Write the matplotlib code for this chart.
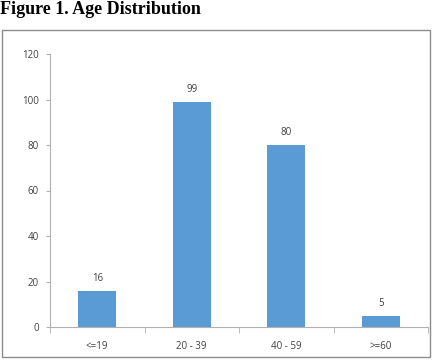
import matplotlib
matplotlib.use("Agg")
import matplotlib.pyplot as plt
from matplotlib.patches import Rectangle

categories = ["<=19", "20 - 39", "40 - 59", ">=60"]
values = [16, 99, 80, 5]
yticks = [0, 20, 40, 60, 80, 100, 120]

W, H = 434, 363
fig = plt.figure(figsize=(W/100, H/100), dpi=100)
fig.patch.set_facecolor("white")

fig.text(0/W, 1 - 1/H, "Figure 1. Age Distribution", ha="left", va="top",
         fontsize=13, fontweight="bold", family="Liberation Serif")

fig.patches.append(Rectangle((2/W, 1 - 357/H), 428/W, 327/H, transform=fig.transFigure,
                             fill=False, edgecolor="#8c8c8c", linewidth=1.0))

ax = fig.add_axes([50/W, 1 - 327/H, 378/W, 273/H])
x = list(range(len(categories)))
bars = ax.bar(x, values, width=0.4, color="#5b9bd5")
ax.set_xlim(-0.5, len(categories) - 0.5)
ax.set_ylim(0, 120)
ax.set_yticks(yticks)
ax.set_yticklabels([str(t) for t in yticks])
ax.set_xticks(x)
ax.set_xticklabels(categories)
ax.set_xticks([i + 0.5 for i in x[:-1]] + [-0.5, len(categories) - 0.5], minor=True)
ax.tick_params(axis="x", which="major", length=0, pad=10, labelsize=7, colors="#404040")
ax.tick_params(axis="x", which="minor", length=4, color="#b0b0b0")
ax.tick_params(axis="y", length=3, color="#b0b0b0", labelsize=7, labelcolor="#404040", pad=5)
for s in ["top", "right"]:
    ax.spines[s].set_visible(False)
for s in ["left", "bottom"]:
    ax.spines[s].set_color("#b0b0b0")
    ax.spines[s].set_linewidth(0.8)
for lab in ax.get_xticklabels() + ax.get_yticklabels():
    lab.set_family("Open Sans")
for xi, v in zip(x, values):
    ax.annotate(str(v), (xi, v), xytext=(0, 5), textcoords="offset points",
                ha="center", va="bottom", fontsize=7, color="#404040", family="Open Sans")

fig.savefig("out.png", dpi=100)
